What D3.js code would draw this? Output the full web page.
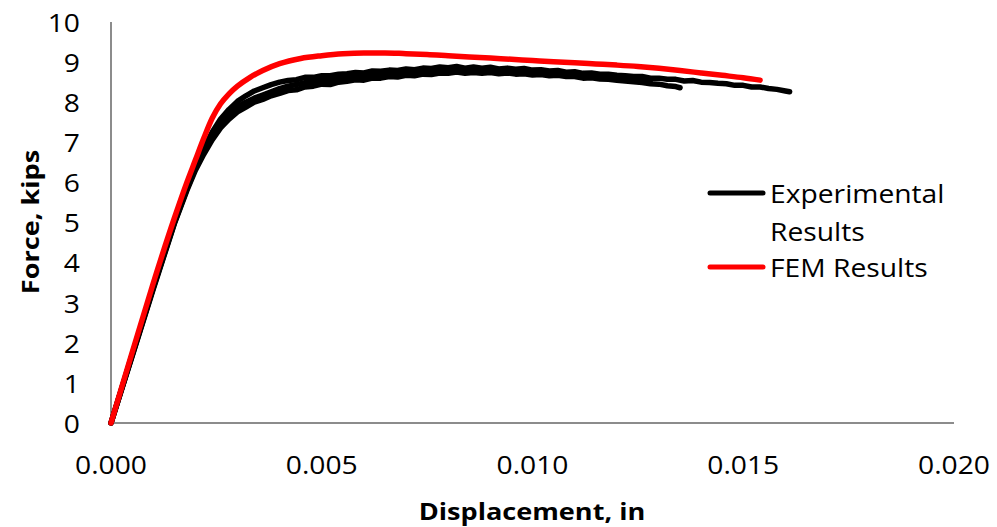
<!DOCTYPE html>
<html><head><meta charset="utf-8">
<script src="https://cdn.jsdelivr.net/npm/d3@7"></script>
<style>body{margin:0;background:#fff}svg{display:block}text{font-family:"Open Sans",sans-serif;fill:#000}</style>
</head><body>
<svg id="c" width="997" height="527"></svg>
<script>
const xTicks = [0, 0.005, 0.010, 0.015, 0.020];
const yTicks = [0,1,2,3,4,5,6,7,8,9,10];
const xTitle = "Displacement, in";
const yTitle = "Force, kips";

const fem = [[0,0],[0.0005,1.75],[0.001,3.48],[0.0015,5.1],[0.0018,6.0],[0.002,6.55],[0.0022,7.1],[0.0024,7.6],[0.0026,7.96],[0.0028,8.21],[0.003,8.4],[0.0033,8.62],[0.0036,8.79],[0.004,8.96],[0.0045,9.09],[0.005,9.16],[0.0055,9.21],[0.006,9.23],[0.0065,9.23],[0.007,9.21],[0.0075,9.19],[0.008,9.16],[0.0085,9.13],[0.009,9.1],[0.0095,9.07],[0.01,9.04],[0.0105,9.01],[0.011,8.985],[0.0115,8.955],[0.012,8.925],[0.0125,8.89],[0.013,8.845],[0.0135,8.79],[0.014,8.73],[0.0145,8.67],[0.015,8.61],[0.0154,8.55]];

const exp1 = [[0,0],[0.0005,1.7],[0.001,3.38],[0.0015,5.0],[0.0018,5.85],[0.002,6.38],[0.0022,6.85],[0.0024,7.25],[0.0026,7.58],[0.0028,7.82],[0.003,8.02],[0.0032,8.16],[0.0034,8.28],[0.0036,8.36],[0.0038,8.44],[0.004,8.5],[0.0042,8.54],[0.0044,8.56],[0.0046,8.62],[0.0048,8.62],[0.005,8.66],[0.0052,8.66],[0.0054,8.7],[0.0056,8.71],[0.0058,8.74],[0.006,8.73],[0.0062,8.78],[0.0064,8.77],[0.0066,8.8],[0.0068,8.79],[0.007,8.83],[0.0072,8.81],[0.0074,8.85],[0.0076,8.84],[0.0078,8.88],[0.008,8.86],[0.0082,8.89],[0.0084,8.85],[0.0086,8.88],[0.0088,8.85],[0.009,8.87],[0.0092,8.83],[0.0094,8.85],[0.0096,8.82],[0.0098,8.84],[0.01,8.8],[0.0102,8.81],[0.0104,8.78],[0.0106,8.79],[0.0108,8.75],[0.011,8.76],[0.0112,8.72],[0.0114,8.73],[0.0116,8.7],[0.0118,8.7],[0.012,8.67],[0.0122,8.66],[0.0124,8.64],[0.0126,8.64],[0.0128,8.6],[0.013,8.6],[0.0132,8.57],[0.0134,8.57],[0.0136,8.53],[0.0138,8.54],[0.014,8.5],[0.0142,8.49],[0.0144,8.47],[0.0146,8.46],[0.0148,8.42],[0.015,8.42],[0.0152,8.38],[0.0154,8.38],[0.0156,8.34],[0.0158,8.32],[0.016,8.28],[0.0161,8.26]];

const exp2 = [[0,0],[0.0005,1.66],[0.001,3.33],[0.0015,4.96],[0.0018,5.8],[0.002,6.3],[0.0022,6.7],[0.0024,7.06],[0.0026,7.36],[0.0028,7.58],[0.003,7.76],[0.0032,7.88],[0.0034,8.0],[0.0036,8.07],[0.0038,8.16],[0.004,8.22],[0.0042,8.29],[0.0044,8.31],[0.0046,8.38],[0.0048,8.4],[0.005,8.45],[0.0052,8.44],[0.0054,8.5],[0.0056,8.52],[0.0058,8.56],[0.006,8.55],[0.0062,8.6],[0.0064,8.6],[0.0066,8.64],[0.0068,8.63],[0.007,8.67],[0.0072,8.66],[0.0074,8.7],[0.0076,8.69],[0.0078,8.73],[0.008,8.72],[0.0082,8.75],[0.0084,8.72],[0.0086,8.74],[0.0088,8.72],[0.009,8.74],[0.0092,8.71],[0.0094,8.73],[0.0096,8.7],[0.0098,8.71],[0.01,8.68],[0.0102,8.69],[0.0104,8.66],[0.0106,8.67],[0.0108,8.64],[0.011,8.64],[0.0112,8.6],[0.0114,8.61],[0.0116,8.58],[0.0118,8.57],[0.012,8.55],[0.0122,8.53],[0.0124,8.51],[0.0126,8.49],[0.0128,8.46],[0.013,8.45],[0.0132,8.41],[0.0134,8.39],[0.0135,8.36]];

const exp3 = [[0,0],[0.0005,1.68],[0.001,3.36],[0.0015,4.98],[0.0018,5.83],[0.002,6.34],[0.0022,6.77],[0.0024,7.15],[0.0026,7.46],[0.0028,7.7],[0.003,7.88],[0.0032,8.0],[0.0034,8.1],[0.0036,8.18],[0.0038,8.26],[0.004,8.34],[0.0042,8.4],[0.0044,8.44],[0.0046,8.49],[0.0048,8.52],[0.005,8.55],[0.0052,8.56],[0.0054,8.6],[0.0056,8.61],[0.0058,8.65],[0.006,8.65],[0.0062,8.68],[0.0064,8.69],[0.0066,8.72],[0.0068,8.7],[0.007,8.75],[0.0072,8.74],[0.0074,8.77],[0.0076,8.76],[0.0078,8.8],[0.008,8.78],[0.0082,8.81],[0.0084,8.78],[0.0086,8.8],[0.0088,8.79],[0.009,8.8],[0.0092,8.77],[0.0094,8.78],[0.0096,8.75],[0.0098,8.77],[0.01,8.74],[0.0102,8.74],[0.0104,8.72],[0.0106,8.72],[0.0108,8.69],[0.011,8.7],[0.0112,8.66],[0.0114,8.67],[0.0116,8.64],[0.0118,8.63],[0.012,8.61],[0.0122,8.6],[0.0124,8.58],[0.0126,8.57],[0.0128,8.55]];

const svg = d3.select("#c");
const x = d3.scaleLinear().domain([0,0.020]).range([111,954]);
const y = d3.scaleLinear().domain([0,10]).range([423,22]);
const SX = 1.13, FS = 25;

function label(g, px, py, str, anchor, opts={}) {
  const t = g.append("g").attr("transform", `translate(${px},${py})${opts.rot?` rotate(${opts.rot})`:""} scale(${opts.sx||SX},1)`)
    .append("text").attr("text-anchor", anchor).attr("dominant-baseline","central")
    .style("font-size", (opts.fs||FS)+"px").text(str);
  if (opts.bold) t.style("font-weight","bold");
  return t;
}

svg.append("line").attr("x1",x(0)).attr("x2",x(0)).attr("y1",y(10)).attr("y2",y(0)).attr("stroke","#8c8c8c").attr("stroke-width",2);
svg.append("line").attr("x1",x(0)).attr("x2",x(0.020)).attr("y1",y(0)).attr("y2",y(0)).attr("stroke","#8c8c8c").attr("stroke-width",2);

const tg = svg.append("g");
yTicks.forEach(v => label(tg, 80, y(v), String(v), "end"));
xTicks.forEach(v => label(tg, x(v), 464, d3.format(".3f")(v), "middle"));

label(svg, 532, 511, xTitle, "middle", {bold:true, fs:24});
label(svg, 30, 222, yTitle, "middle", {bold:true, fs:24, rot:-90});

const lineE = d3.line().x(d=>x(d[0])).y(d=>y(d[1])).curve(d3.curveLinear);
const lineF = d3.line().x(d=>x(d[0])).y(d=>y(d[1])).curve(d3.curveMonotoneX);
[exp2, exp3, exp1].forEach(s => svg.append("path").attr("d", lineE(s)).attr("fill","none").attr("stroke","#000").attr("stroke-width",5.5).attr("stroke-linecap","round").attr("stroke-linejoin","round"));
svg.append("path").attr("d", lineF(fem)).attr("fill","none").attr("stroke","#ff0000").attr("stroke-width",5.5).attr("stroke-linecap","round").attr("stroke-linejoin","round");

const lg = svg.append("g");
lg.append("line").attr("x1",710).attr("x2",763).attr("y1",193).attr("y2",193).attr("stroke","#000").attr("stroke-width",5).attr("stroke-linecap","round");
label(lg, 770, 193, "Experimental", "start");
label(lg, 770, 231, "Results", "start");
lg.append("line").attr("x1",710).attr("x2",763).attr("y1",267).attr("y2",267).attr("stroke","#ff0000").attr("stroke-width",5).attr("stroke-linecap","round");
label(lg, 770, 267, "FEM Results", "start");
</script>
</body></html>
